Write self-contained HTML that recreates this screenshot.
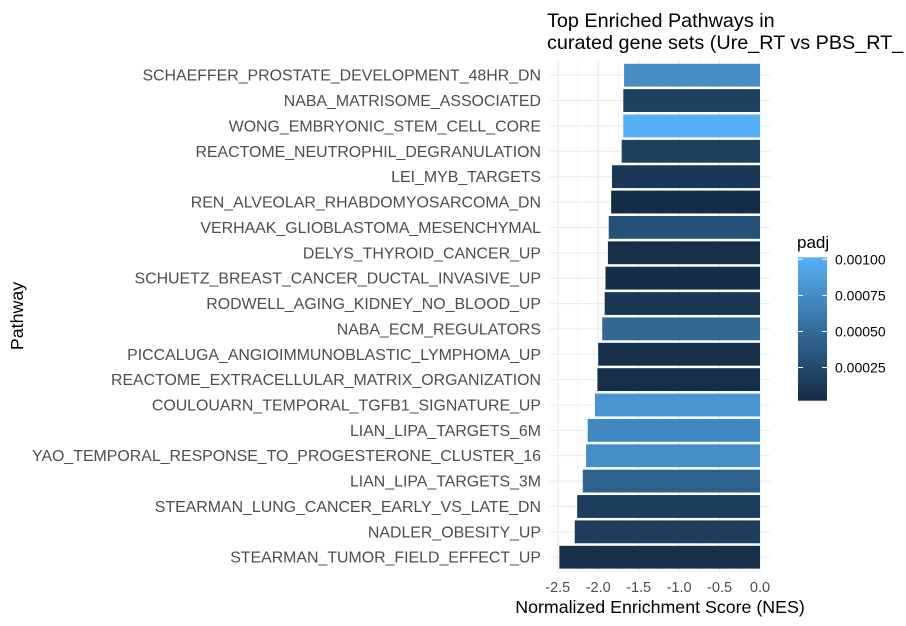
<!DOCTYPE html>
<html><head><meta charset="utf-8"><style>
body{margin:0;background:#fff;}
svg{display:block;font-family:"Liberation Sans",Arial,sans-serif;}
</style></head><body>
<svg id="chart" width="906" height="626">
<defs><linearGradient id="grad" x1="0" y1="1" x2="0" y2="0">
<stop offset="0" stop-color="#132B43"/><stop offset="1" stop-color="#56B1F7"/></linearGradient></defs>
<g id="grid"></g>
<g id="bars"></g>
<g id="ylabels"></g>
<g id="xlabels"></g>
<text x="547" y="27" font-size="19.8" fill="#000">Top Enriched Pathways in</text>
<text x="547" y="49" font-size="19.8" fill="#000">curated gene sets (Ure_RT vs PBS_RT_</text>
<text x="660" y="613" font-size="17.8" text-anchor="middle" fill="#000">Normalized Enrichment Score (NES)</text>
<text transform="translate(23,316) rotate(-90)" font-size="17.8" text-anchor="middle" fill="#000">Pathway</text>
<g>
<text x="797" y="248" font-size="17" fill="#000">padj</text>
<rect x="798" y="257.3" width="29" height="143.4" fill="url(#grad)"/>
<g id="legticks"></g>
</g>
</svg>
<script>
const pathways=["SCHAEFFER_PROSTATE_DEVELOPMENT_48HR_DN","NABA_MATRISOME_ASSOCIATED","WONG_EMBRYONIC_STEM_CELL_CORE","REACTOME_NEUTROPHIL_DEGRANULATION","LEI_MYB_TARGETS","REN_ALVEOLAR_RHABDOMYOSARCOMA_DN","VERHAAK_GLIOBLASTOMA_MESENCHYMAL","DELYS_THYROID_CANCER_UP","SCHUETZ_BREAST_CANCER_DUCTAL_INVASIVE_UP","RODWELL_AGING_KIDNEY_NO_BLOOD_UP","NABA_ECM_REGULATORS","PICCALUGA_ANGIOIMMUNOBLASTIC_LYMPHOMA_UP","REACTOME_EXTRACELLULAR_MATRIX_ORGANIZATION","COULOUARN_TEMPORAL_TGFB1_SIGNATURE_UP","LIAN_LIPA_TARGETS_6M","YAO_TEMPORAL_RESPONSE_TO_PROGESTERONE_CLUSTER_16","LIAN_LIPA_TARGETS_3M","STEARMAN_LUNG_CANCER_EARLY_VS_LATE_DN","NADLER_OBESITY_UP","STEARMAN_TUMOR_FIELD_EFFECT_UP"];
const nes=[-1.68,-1.69,-1.69,-1.71,-1.83,-1.84,-1.87,-1.88,-1.91,-1.92,-1.95,-2.00,-2.01,-2.04,-2.13,-2.15,-2.19,-2.26,-2.29,-2.48];
const padj=[0.00075,0.00018,0.00101,0.00018,0.00012,0.00003,0.00030,0.00006,0.00004,0.00012,0.00047,0.00005,0.00005,0.00080,0.00072,0.00076,0.00042,0.00015,0.00015,0.00006];
const xTicks=[-2.5,-2.0,-1.5,-1.0,-0.5,0.0];
const legTicks=[0.00025,0.0005,0.00075,0.001];
const NS="http://www.w3.org/2000/svg";
const x0=760,ppu=80.9,px=v=>x0+v*ppu;
const bandTop=60,band=25.37,yc=i=>bandTop+band*(i+0.5)+2.5;
const pL=549.7,pR=770,pT=60,pB=572;
const cmin=0.00002,cmax=0.001014;
const c0=[0x13,0x2B,0x43],c1=[0x56,0xB1,0xF7];
function col(v){let t=Math.max(0,Math.min(1,(v-cmin)/(cmax-cmin)));return "rgb("+c0.map((a,k)=>Math.round(a+(c1[k]-a)*t)).join(",")+")";}
function mk(t,a,p){const e=document.createElementNS(NS,t);for(const k in a)e.setAttribute(k,a[k]);p.appendChild(e);return e;}
const grid=document.getElementById("grid");
for(let v=-2.75;v<=0.01;v+=0.25){const xx=px(v);if(xx<pL)continue;const major=Math.abs(v*2-Math.round(v*2))<1e-6;
const l=mk("line",{x1:xx,x2:xx,y1:pT,y2:pB,stroke:"#ebebeb","stroke-width":major?1.1:0.5},grid);

}
pathways.forEach((p,i)=>{const l=mk("line",{x1:pL,x2:pR,y1:yc(i),y2:yc(i),stroke:"#ebebeb","stroke-width":1.1},grid);

});
const bars=document.getElementById("bars"),yl=document.getElementById("ylabels");
pathways.forEach((p,i)=>{const h=band*0.9;const xl=px(nes[i]);
const r=mk("rect",{x:xl,y:yc(i)-h/2,width:px(0)-xl,height:h,fill:col(padj[i])},bars);


const t=mk("text",{x:541,y:yc(i)+5.5,"font-size":15.9,"text-anchor":"end",fill:"#4d4d4d"},yl);t.textContent=p;

});
const xlab=document.getElementById("xlabels");
xTicks.forEach(v=>{const t=mk("text",{x:px(v),y:592,"font-size":14.5,"text-anchor":"middle",fill:"#4d4d4d"},xlab);t.textContent=v.toFixed(1);

});
const lg=document.getElementById("legticks");
const ly=v=>400.7-(v-cmin)/(cmax-cmin)*143.4;
legTicks.forEach(v=>{const y=ly(v);
mk("line",{x1:798,x2:803,y1:y,y2:y,stroke:"#fff","stroke-width":1},lg);
mk("line",{x1:822,x2:827,y1:y,y2:y,stroke:"#fff","stroke-width":1},lg);
const t=mk("text",{x:835,y:y+5,"font-size":14,fill:"#000"},lg);t.textContent=v.toFixed(5);

});
</script>
</body></html>
